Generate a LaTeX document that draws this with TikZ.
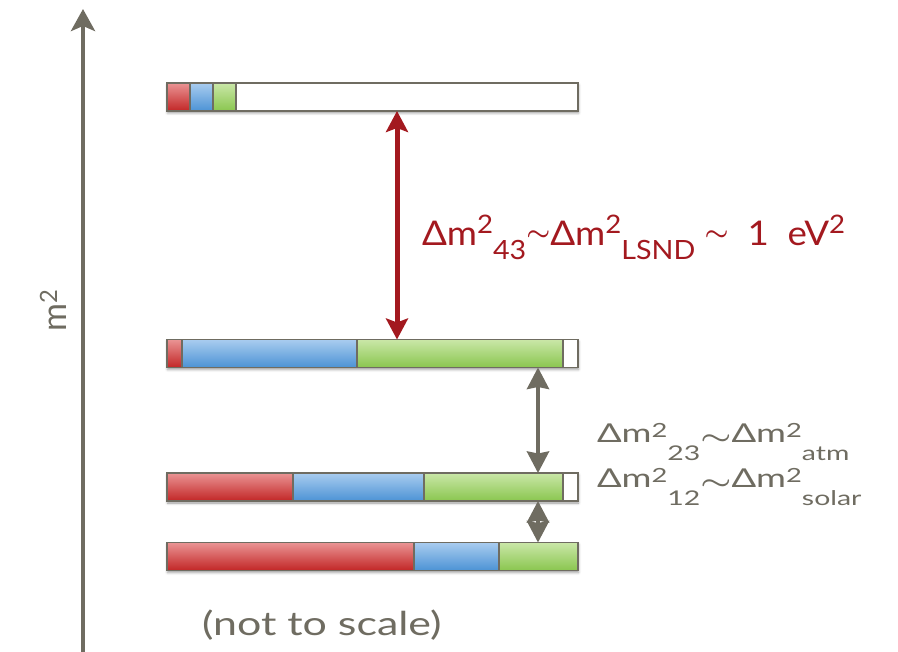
\documentclass[tikz,border=0pt]{standalone}
\usepackage{amsmath}
\usepackage{fontspec}
\setmainfont{Lato}
\usepackage{xcolor}
\usetikzlibrary{arrows.meta,shadows.blur}
\definecolor{axisgray}{HTML}{6F6C61}
\definecolor{lsndred}{HTML}{A3191F}
\definecolor{redtop}{HTML}{EA9494}
\definecolor{redbot}{HTML}{C22626}
\definecolor{bluetop}{HTML}{A9CCEF}
\definecolor{bluebot}{HTML}{4C93D5}
\definecolor{greentop}{HTML}{CAE7A8}
\definecolor{greenbot}{HTML}{8AC64F}
% Delta m^2 with sub index, lifts set by the label style
\newcommand{\dmsq}[1]{Δm\raisebox{\suplift}{\scalebox{0.75}{2}}\raisebox{-\subdrop}{\scalebox{0.78}{#1}}}
\newcommand{\tld}{\raisebox{\tldlift}{\ensuremath{\boldsymbol{\sim}}}}

\begin{document}
\begin{tikzpicture}[
  x=1pt,
  y=-1pt,
  every node/.style={
    inner sep=0pt,
    outer sep=0pt
  },
  levelbar/.style={
    rectangle,
    fill=white,
    minimum width=411pt,
    minimum height=28pt,
    blur shadow={shadow xshift=0.5pt, shadow yshift=-2pt,
      shadow blur radius=2.5pt, shadow opacity=40}
  },
  barframe/.style={
    draw=axisgray,
    line width=1.6pt
  },
  redseg/.style={top color=redtop, bottom color=redbot},
  blueseg/.style={top color=bluetop, bottom color=bluebot},
  greenseg/.style={top color=greentop, bottom color=greenbot},
  massaxis/.style={
    draw=axisgray,
    line width=4.5pt,
    -{Stealth[length=22pt, width=24pt, inset=5pt]}
  },
  lsndarrow/.style={
    draw=lsndred,
    line width=5pt,
    {Stealth[length=21pt, width=22pt, inset=4pt]}-{Stealth[length=21pt, width=22pt, inset=4pt]}
  },
  splitarrow/.style={
    draw=axisgray,
    line width=4pt,
    {Stealth[length=21.5pt, width=22pt, inset=2pt]}-{Stealth[length=21.5pt, width=22pt, inset=2pt]}
  },
  lsndlabel/.style={
    text=lsndred,
    anchor=base west,
    xscale=1.08,
    font=\fontsize{34}{40}\selectfont\def\suplift{0.36em}\def\subdrop{0.4em}\def\tldlift{0.15em}
  },
  splitlabel/.style={
    text=axisgray,
    anchor=base west,
    xscale=1.4,
    font=\fontsize{26}{32}\selectfont\def\suplift{0.22em}\def\subdrop{0.68em}\def\tldlift{-0.05em}
  },
  notelabel/.style={
    text=axisgray,
    anchor=base west,
    xscale=1.3,
    font=\fontsize{33}{38}\selectfont
  },
  axislabel/.style={
    text=axisgray,
    rotate=90,
    font=\fontsize{34}{40}\selectfont
  }
]

\useasboundingbox (0,0) rectangle (898,652);

% Mass axis
\coordinate (axisfoot) at (83,652);
\coordinate (axistip)  at (83,9);
\draw[massaxis] (axisfoot) -- (axistip);
\node[axislabel] (msq) at (53,310) {m\textsuperscript{2}};

% Level bars
\node[levelbar] (nu4) at (372.5,97)  {};
\node[levelbar] (nu3) at (372.5,353.5) {};
\node[levelbar] (nu2) at (372.5,487) {};
\node[levelbar] (nu1) at (372.5,556.5) {};

% nu4
\path[redseg]   (167,83) rectangle (190,111);
\path[blueseg]  (190,83) rectangle (213,111);
\path[greenseg] (213,83) rectangle (236,111);
\draw[barframe] (190,83) -- (190,111);
\draw[barframe] (213,83) -- (213,111);
\draw[barframe] (236,83) -- (236,111);
\draw[barframe] (nu4.north west) rectangle (nu4.south east);

% nu3
\path[redseg]   (167,339.5) rectangle (182,367.5);
\path[blueseg]  (182,339.5) rectangle (357,367.5);
\path[greenseg] (357,339.5) rectangle (563,367.5);
\draw[barframe] (182,339.5) -- (182,367.5);
\draw[barframe] (357,339.5) -- (357,367.5);
\draw[barframe] (563,339.5) -- (563,367.5);
\draw[barframe] (nu3.north west) rectangle (nu3.south east);

% nu2
\path[redseg]   (167,473) rectangle (293,501);
\path[blueseg]  (293,473) rectangle (424,501);
\path[greenseg] (424,473) rectangle (563,501);
\draw[barframe] (293,473) -- (293,501);
\draw[barframe] (424,473) -- (424,501);
\draw[barframe] (563,473) -- (563,501);
\draw[barframe] (nu2.north west) rectangle (nu2.south east);

% nu1
\path[redseg]   (167,542.5) rectangle (414,570.5);
\path[blueseg]  (414,542.5) rectangle (499,570.5);
\path[greenseg] (499,542.5) rectangle (578,570.5);
\draw[barframe] (414,542.5) -- (414,570.5);
\draw[barframe] (499,542.5) -- (499,570.5);
\draw[barframe] (nu1.north west) rectangle (nu1.south east);

% Splittings
\coordinate (lsndx)  at (397,0);
\coordinate (splitx) at (538,0);
\draw[lsndarrow]  (nu4.south -| lsndx)  -- (nu3.north -| lsndx);
\draw[splitarrow] (nu3.south -| splitx) -- (nu2.north -| splitx);
\draw[splitarrow] (nu2.south -| splitx) -- (nu1.north -| splitx);

% Labels
\node[lsndlabel]  (lsnd) at (422,246) {\dmsq{43}\tld\dmsq{LSND}\ \tld\ \ 1\ \ eV\raisebox{0.36em}{\scalebox{0.75}{2}}};
\node[splitlabel] (atm)  at (597,443) {\dmsq{23}\tld\dmsq{atm}};
\node[splitlabel] (sol)  at (597,488) {\dmsq{12}\tld\dmsq{solar}};
\node[notelabel]  (note) at (202,635) {(not to scale)};

\end{tikzpicture}
\end{document}
